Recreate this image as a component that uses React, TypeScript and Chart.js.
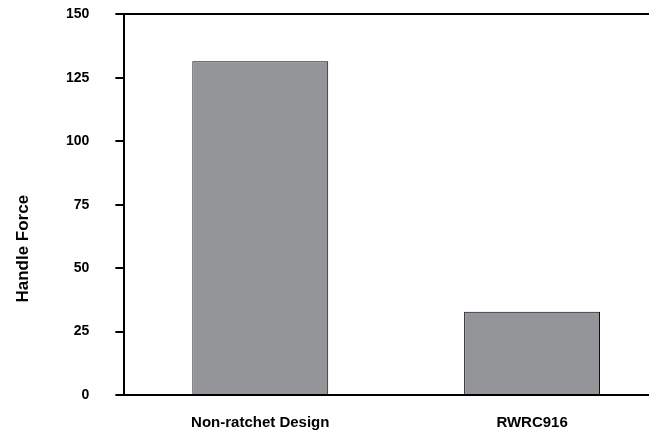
import React, { useEffect, useRef } from "react";
import { Chart, registerables } from "chart.js";

Chart.register(...registerables);

const categories = ["Non-ratchet Design", "RWRC916"];
const handleForce = [131.5, 32.8];
const yMin = 0;
const yMax = 150;
const yStep = 25;
const yTitle = "Handle Force";

const FONT = "'Liberation Sans', Arial, Helvetica, sans-serif";

const yTitlePlugin = {
  id: "yTitlePlugin",
  afterDraw(chart: any) {
    const { ctx, chartArea } = chart;
    ctx.save();
    ctx.translate(23.5, (chartArea.top + chartArea.bottom) / 2 + 44);
    ctx.rotate(-Math.PI / 2);
    ctx.font = `bold 17px ${FONT}`;
    ctx.fillStyle = "#000";
    ctx.textAlign = "center";
    ctx.textBaseline = "middle";
    ctx.fillText(yTitle, 0, 0);
    ctx.restore();
  },
};

export default function App() {
  const ref = useRef<HTMLCanvasElement>(null);
  useEffect(() => {
    document.body.style.margin = "0";
    if (!ref.current) return;
    const chart = new Chart(ref.current, {
      type: "bar",
      data: {
        labels: categories,
        datasets: [
          {
            data: handleForce,
            backgroundColor: "#939598",
            borderColor: "#000",
            borderWidth: 1,
            barPercentage: 0.5,
            categoryPercentage: 1,
          },
        ],
      },
      options: {
        animation: false,
        responsive: false,
        maintainAspectRatio: false,
        layout: { padding: { left: 40, top: 0, right: 0, bottom: 0 } },
        plugins: { legend: { display: false }, tooltip: { enabled: false } },
        scales: {
          x: {
            grid: { display: false, drawTicks: false },
            border: { display: true, color: "#000", width: 2 },
            ticks: {
              color: "#000",
              font: { family: FONT, size: 15, weight: "bold" },
              padding: 19,
              maxRotation: 0,
            },
          },
          y: {
            min: yMin,
            max: yMax,
            ticks: {
              stepSize: yStep,
              color: "#000",
              font: { family: FONT, size: 14, weight: "bold" },
              padding: 26,
            },
            grid: {
              color: (c: any) =>
                c.tick && c.tick.value === yMax ? "#000" : "rgba(0,0,0,0)",
              lineWidth: 2,
              tickColor: "#000",
              tickWidth: 2,
              tickLength: 9,
            },
            border: { display: true, color: "#000", width: 2 },
          },
        },
      },
      plugins: [yTitlePlugin],
    });
    return () => chart.destroy();
  }, []);
  return (
    <div style={{ width: 649, height: 430, overflow: "hidden", background: "#fff" }}>
      <canvas ref={ref} width={668} height={471} style={{ display: "block", marginTop: -20 }} />
    </div>
  );
}
